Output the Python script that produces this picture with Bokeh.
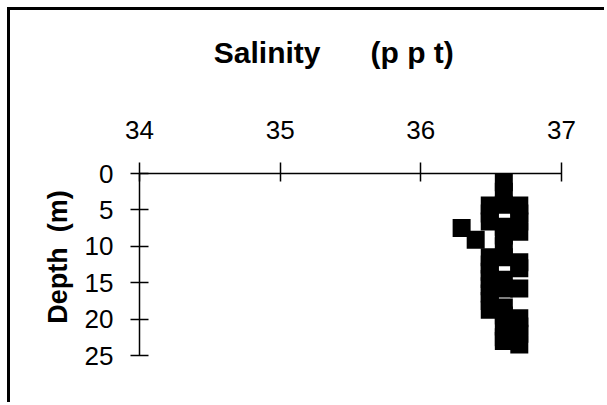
from bokeh.plotting import figure
from bokeh.models import Range1d, FixedTicker
from bokeh.embed import file_html
from bokeh.resources import INLINE

# Data (depth in m, salinity in ppt)
depth = [1.2, 2.5, 4.3, 7.3, 8.5, 10.0, 11.5, 14.6, 15.8, 18.4, 19.5, 21.0, 22.5, 23.0,
         4.4, 5.5, 6.6, 11.5, 12.5, 13.5, 14.5, 15.5, 16.5, 17.5, 18.7,
         4.4, 5.5, 6.6, 8.0, 12.2, 13.0, 15.8, 19.9, 21.0, 22.0, 23.5,
         7.5, 9.1]
salinity = [36.59] * 14 + [36.49] * 11 + [36.70] * 11 + [36.29, 36.39]

x_ticks = [34, 35, 36, 37]
y_ticks = [0, 5, 10, 15, 20, 25]
NB = "\u00a0"
x_label = "Salinity" + NB * 6 + "(p" + NB + "p" + NB + "t)" + NB * 4
y_label = NB * 2 + "Depth" + NB * 2 + "(m)"

FONT = "Liberation Sans"

p = figure(width=597, height=395, x_range=Range1d(34, 37), y_range=Range1d(25, 0),
           x_axis_location="above", output_backend="svg", toolbar_location=None,
           min_border_left=129, min_border_right=46, min_border_top=163, min_border_bottom=50)
p.grid.visible = False
p.outline_line_color = None
p.background_fill_color = "white"
p.border_fill_color = "white"

xa = p.xaxis[0]
xa.ticker = FixedTicker(ticks=x_ticks)
xa.major_tick_in = 8
xa.major_tick_out = 11
xa.minor_tick_line_color = None
xa.major_label_text_font = FONT
xa.major_label_text_font_size = "26px"
xa.major_label_text_color = "black"
xa.major_label_standoff = 24
xa.axis_line_color = "black"
xa.axis_line_width = 1.5
xa.major_tick_line_color = "black"
xa.major_tick_line_width = 1.5
xa.axis_label = x_label
xa.axis_label_text_font = FONT
xa.axis_label_text_font_size = "30px"
xa.axis_label_text_font_style = "bold"
xa.axis_label_text_color = "black"
xa.axis_label_standoff = 49

ya = p.yaxis[0]
ya.ticker = FixedTicker(ticks=y_ticks)
ya.major_tick_in = 9
ya.major_tick_out = 9
ya.minor_tick_line_color = None
ya.major_label_text_font = FONT
ya.major_label_text_font_size = "26px"
ya.major_label_text_color = "black"
ya.major_label_standoff = 17
ya.axis_line_color = "black"
ya.axis_line_width = 1.5
ya.major_tick_line_color = "black"
ya.major_tick_line_width = 1.5
ya.axis_label = y_label
ya.axis_label_text_font = FONT
ya.axis_label_text_font_size = "27px"
ya.axis_label_text_font_style = "bold"
ya.axis_label_text_color = "black"
ya.axis_label_standoff = 9

p.scatter(x=salinity, y=depth, marker="square", size=18, fill_color="black",
          line_color="black", line_width=0)

p.styles = {"margin-left": "7px", "margin-top": "7px",
            "border-top": "3px solid black", "border-left": "3px solid black"}

open("out.html", "w").write(file_html(p, INLINE))
